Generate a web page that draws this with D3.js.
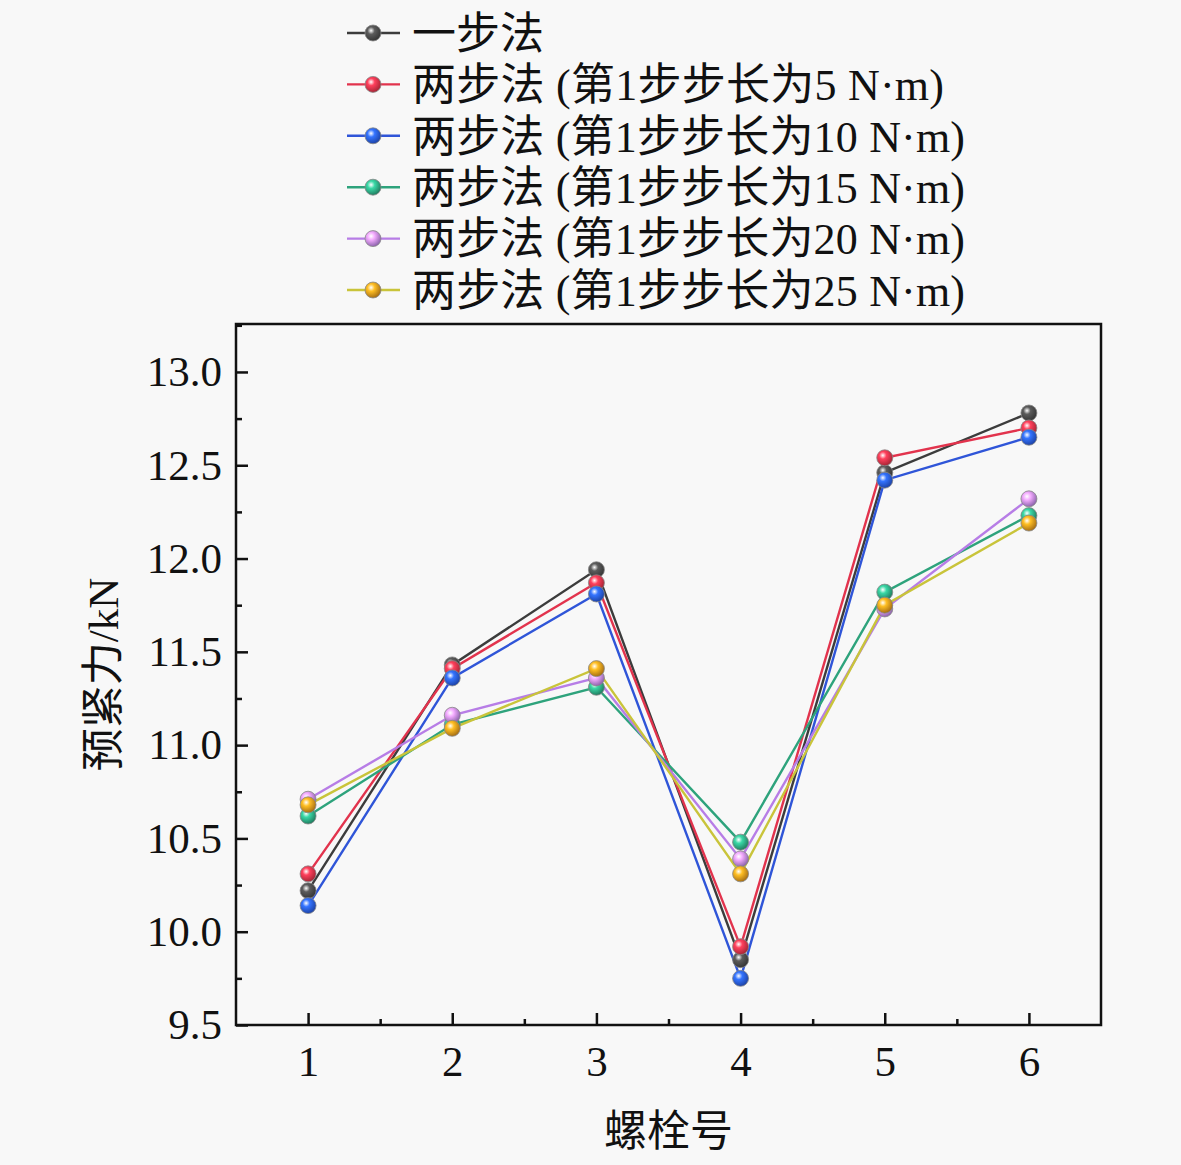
<!DOCTYPE html>
<html>
<head>
<meta charset="utf-8">
<script src="https://cdn.jsdelivr.net/npm/d3@7"></script>
<style>
  body { margin: 0; background: #f8f8f8; }
  text { font-family: "Liberation Serif", "Noto Sans CJK SC", serif; fill: #111; }
</style>
</head>
<body>
<div id="chart"></div>
<script>
// bolt numbers and preload values (kN)
const bolts = [1, 2, 3, 4, 5, 6];
const oneStep = [10.22, 11.43, 11.94, 9.85, 12.46, 12.78];
const twoStep5 = [10.31, 11.41, 11.87, 9.92, 12.54, 12.70];
const twoStep10 = [10.14, 11.36, 11.81, 9.75, 12.42, 12.65];
const twoStep15 = [10.62, 11.11, 11.31, 10.48, 11.82, 12.23];
const twoStep20 = [10.71, 11.16, 11.36, 10.39, 11.73, 12.32];
const twoStep25 = [10.68, 11.09, 11.41, 10.31, 11.75, 12.19];

const seriesNames = [
  "一步法",
  "两步法 (第1步步长为5 N·m)",
  "两步法 (第1步步长为10 N·m)",
  "两步法 (第1步步长为15 N·m)",
  "两步法 (第1步步长为20 N·m)",
  "两步法 (第1步步长为25 N·m)"
];
const seriesValues = [oneStep, twoStep5, twoStep10, twoStep15, twoStep20, twoStep25];
const lineColors = ["#3c3c3c", "#e2334d", "#2f55d8", "#2ea37c", "#b77de6", "#c9c43a"];
const dotColors = ["#4a4a4a", "#e8344a", "#2a5ee8", "#2fae86", "#c58bf0", "#e89a1c"];

const yTicks = [9.5, 10.0, 10.5, 11.0, 11.5, 12.0, 12.5, 13.0];

const W = 1181, H = 1165;
const plot = { left: 236, right: 1101, top: 324, bottom: 1025 };

const x = d3.scaleLinear().domain([0.5, 6.5]).range([plot.left, plot.right]);
const y = d3.scaleLinear().domain([9.5, 13.257]).range([plot.bottom, plot.top]);

const svg = d3.select("#chart").append("svg")
    .attr("width", W)
    .attr("height", H);

// sphere-looking markers
const defs = svg.append("defs");
dotColors.forEach((c, i) => {
  const g = defs.append("radialGradient")
      .attr("id", "ball" + i)
      .attr("cx", "38%").attr("cy", "35%").attr("r", "65%");
  g.append("stop").attr("offset", "0%").attr("stop-color", "#ffffff");
  g.append("stop").attr("offset", "35%").attr("stop-color", d3.color(c).brighter(0.6));
  g.append("stop").attr("offset", "100%").attr("stop-color", d3.color(c).darker(0.9));
});

// ticks (inside)
const yAxis = d3.axisLeft(y).tickValues(yTicks).tickFormat(d3.format(".1f")).tickSize(-12).tickPadding(14);
const yMinor = d3.axisLeft(y).tickValues(d3.range(9.75, 13.26, 0.5)).tickFormat("").tickSize(-6);
const xAxis = d3.axisBottom(x).tickValues(bolts).tickFormat(d3.format("d")).tickSize(-12).tickPadding(20);
const xMinor = d3.axisBottom(x).tickValues([1.5, 2.5, 3.5, 4.5, 5.5]).tickFormat("").tickSize(-6);

function styleAxis(g) {
  g.select(".domain").remove();
  g.selectAll(".tick line").attr("stroke", "#111").attr("stroke-width", 2.5);
  g.selectAll(".tick text")
      .style("font-family", "'Liberation Serif', serif")
      .attr("font-size", 43)
      .attr("fill", "#111");
}

svg.append("g").attr("transform", `translate(${plot.left},0)`).call(yAxis).call(styleAxis);
svg.append("g").attr("transform", `translate(${plot.left},0)`).call(yMinor).call(styleAxis);
svg.append("g").attr("transform", `translate(0,${plot.bottom})`).call(xAxis).call(styleAxis)
    .selectAll(".tick text").attr("dy", "0.71em");
svg.append("g").attr("transform", `translate(0,${plot.bottom})`).call(xMinor).call(styleAxis);

// frame
svg.append("rect")
    .attr("x", plot.left).attr("y", plot.top)
    .attr("width", plot.right - plot.left)
    .attr("height", plot.bottom - plot.top)
    .attr("fill", "none")
    .attr("stroke", "#111")
    .attr("stroke-width", 2.5);

const line = d3.line()
    .x((d, i) => x(bolts[i]))
    .y(d => y(d));

seriesValues.forEach((vals, s) => {
  svg.append("path")
      .datum(vals)
      .attr("d", line)
      .attr("fill", "none")
      .attr("stroke", lineColors[s])
      .attr("stroke-width", 2.4);
});

seriesValues.forEach((vals, s) => {
  svg.append("g").selectAll("circle")
      .data(vals)
      .join("circle")
      .attr("cx", (d, i) => x(bolts[i]))
      .attr("cy", d => y(d))
      .attr("r", 8)
      .attr("fill", `url(#ball${s})`)
      .attr("stroke", "#888")
      .attr("stroke-width", 0.8);
});

// legend
const legend = svg.append("g");
seriesNames.forEach((name, i) => {
  const cy = 33 + i * 51.4;
  legend.append("line")
      .attr("x1", 347).attr("x2", 400)
      .attr("y1", cy).attr("y2", cy)
      .attr("stroke", lineColors[i])
      .attr("stroke-width", 2.4);
  legend.append("circle")
      .attr("cx", 373).attr("cy", cy).attr("r", 8)
      .attr("fill", `url(#ball${i})`)
      .attr("stroke", "#888")
      .attr("stroke-width", 0.8);
  legend.append("text")
      .attr("x", 412).attr("y", cy)
      .attr("dy", "0.36em")
      .attr("font-size", 44)
      .attr("textLength", i === 0 ? null : (i === 1 ? 532 : 553))
      .text(name);
});

// axis titles
svg.append("text")
    .attr("x", (plot.left + plot.right) / 2)
    .attr("y", 1146)
    .attr("text-anchor", "middle")
    .attr("font-size", 43)
    .text("螺栓号");

svg.append("text")
    .attr("transform", `translate(118,${(plot.top + plot.bottom) / 2}) rotate(-90)`)
    .attr("text-anchor", "middle")
    .attr("font-size", 43)
    .text("预紧力/kN");
</script>
</body>
</html>
